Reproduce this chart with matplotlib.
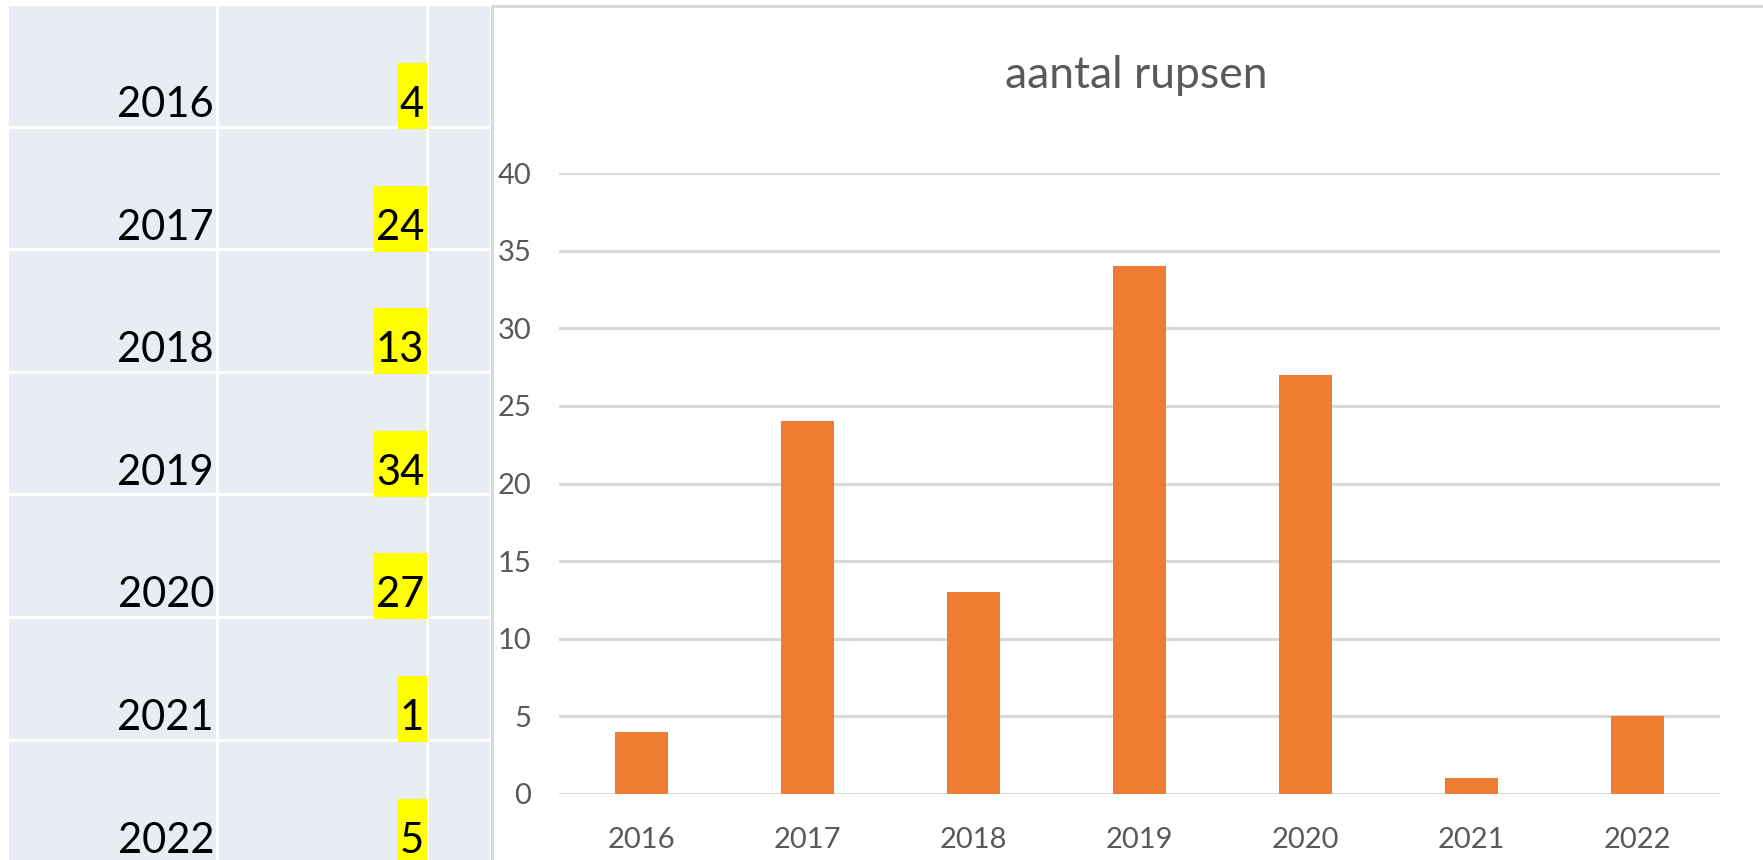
import matplotlib
matplotlib.use("Agg")
from matplotlib import pyplot as plt
from matplotlib.patches import Rectangle

# ------------------------ дані ------------------------
jaren = ["2016", "2017", "2018", "2019", "2020", "2021", "2022"]
rupsen = [4, 24, 13, 34, 27, 1, 5]
y_ticks = [0, 5, 10, 15, 20, 25, 30, 35, 40]
titel = "aantal rupsen"

# ------------------------ кольори / шрифт ------------------------
plt.rcParams["font.family"] = ["Lato", "DejaVu Sans"]
cel_kleur = "#E8ECF3"
balk_kleur = "#ED7D31"
grid_kleur = "#D9D9D9"
tekst_grijs = "#595959"

W, H = 1763, 860
fig = plt.figure(figsize=(W / 100, H / 100), dpi=100)

# ------------------------ achtergrond: tabel ------------------------
bg = fig.add_axes([0, 0, 1, 1], zorder=0)
bg.set_xlim(0, W)
bg.set_ylim(H, 0)
bg.axis("off")

kolommen = [(9, 216), (219, 426), (429, 490)]
rij_top = 4.5
rij_h = 122.6
for i in range(len(jaren)):
    top = rij_top + i * rij_h
    for (x0, x1) in kolommen:
        bg.add_patch(Rectangle((x0, top + 1.5), x1 - x0, rij_h - 3,
                               facecolor=cel_kleur, edgecolor="none"))

# grafiekgebied (chart area) met grijze rand
bg.add_patch(Rectangle((492, 5.5), W, H, facecolor="white",
                       edgecolor=grid_kleur, linewidth=2.2))

jaar_txt = []
waarde_txt = []
for i, (j, v) in enumerate(zip(jaren, rupsen)):
    base = rij_top + i * rij_h + 112.5
    jaar_txt.append(bg.text(214, base, j, ha="right", va="baseline",
                            fontsize=30, color="black", zorder=3))
    waarde_txt.append(bg.text(424, base, str(v), ha="right", va="baseline",
                              fontsize=30, color="black", zorder=3))

# geel markeren achter de waarden
fig.canvas.draw()
r = fig.canvas.get_renderer()
inv = bg.transData.inverted()
for i, t in enumerate(waarde_txt):
    bb = t.get_window_extent(r)
    (xa, _), (xb, _) = inv.transform([[bb.x0, bb.y0], [bb.x1, bb.y1]])
    top = rij_top + i * rij_h + 58.5
    bg.add_patch(Rectangle((xa - 2, top), 427 - (xa - 2), 66,
                           facecolor="#FFFF00", edgecolor="none", zorder=2))

# ------------------------ staafdiagram ------------------------
ax = fig.add_axes([559 / W, (H - 794) / H, 1161 / W, 621 / H], zorder=1)
ax.patch.set_alpha(0)
x = list(range(len(jaren)))
ax.bar(x, rupsen, width=0.32, color=balk_kleur, zorder=2)
ax.set_xlim(-0.5, len(jaren) - 0.5)
ax.set_ylim(0, 40)
ax.set_yticks(y_ticks)
ax.set_xticks(x)
ax.set_xticklabels(jaren)
ax.yaxis.grid(True, color=grid_kleur, linewidth=2.2)
ax.set_axisbelow(True)
for s in ax.spines.values():
    s.set_visible(False)
ax.tick_params(axis="y", length=0, pad=20, labelsize=21, labelcolor=tekst_grijs)
ax.tick_params(axis="x", length=0, pad=24, labelsize=21, labelcolor=tekst_grijs)

fig.text(1136 / W, 1 - 76 / H, titel, ha="center", va="center",
         fontsize=32, color=tekst_grijs)

fig.savefig("out.png", dpi=100)
